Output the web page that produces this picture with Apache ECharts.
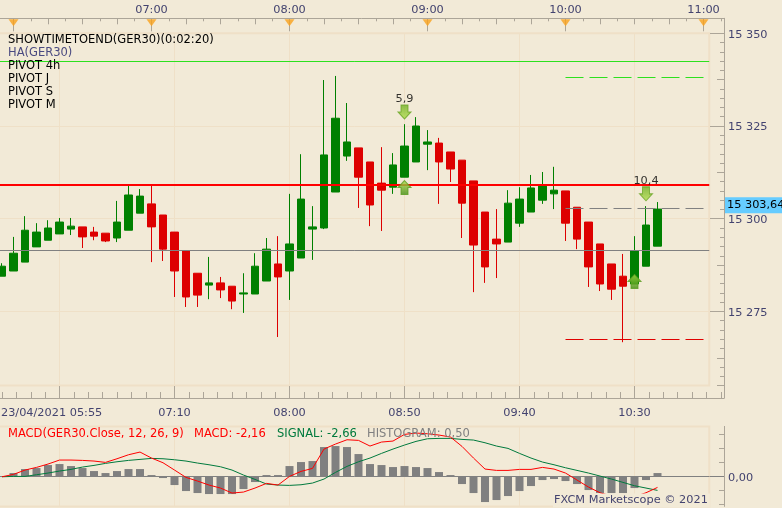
<!DOCTYPE html>
<html><head><meta charset="utf-8">
<style>html,body{margin:0;padding:0;background:#f2ead7;overflow:hidden}#c{width:782px;height:508px}</style>
<script src="https://cdn.jsdelivr.net/npm/echarts@6/dist/echarts.min.js"></script>
</head><body><div id="c"></div>
<script>
// [open, close, low, high]
const candleOpen=[15284.5,15285.9,15288.3,15292.4,15294.2,15295.9,15297.2,15297.8,15296.4,15296.1,15294.8,15296.9,15301.5,15304.0,15301.0,15296.4,15291.3,15285.3,15282.1,15282.7,15281.8,15279.7,15279.7,15283.2,15287.8,15285.9,15289.4,15297.2,15297.5,15307.2,15316.9,15319.1,15315.3,15309.6,15308.5,15311.2,15315.3,15320.1,15320.4,15318.0,15315.8,15310.2,15301.8,15294.5,15293.7,15298.8,15301.8,15305.0,15306.7,15307.5,15303.1,15299.1,15293.2,15287.8,15284.5,15282.4,15287.2,15292.6];
const candleClose=[15287.2,15290.7,15296.9,15296.4,15297.5,15299.1,15298.0,15295.1,15295.3,15294.0,15299.1,15306.4,15306.1,15297.8,15291.8,15285.9,15278.9,15279.4,15282.7,15280.8,15277.8,15280.0,15287.2,15291.8,15284.3,15293.2,15305.3,15297.8,15317.2,15327.1,15320.7,15311.2,15303.7,15307.7,15314.5,15319.6,15325.0,15320.7,15315.3,15313.4,15304.2,15292.9,15287.0,15293.2,15304.2,15305.3,15308.3,15308.8,15307.7,15298.8,15294.5,15287.0,15282.4,15281.0,15281.8,15291.3,15298.3,15302.6];
const candleLow=[15284.5,15285.9,15288.3,15292.4,15294.2,15295.9,15295.6,15292.1,15294.2,15293.7,15293.7,15296.9,15301.5,15288.3,15288.6,15278.9,15276.2,15276.2,15278.3,15278.6,15275.6,15274.6,15279.7,15283.2,15268.1,15278.1,15289.4,15288.9,15297.2,15307.2,15315.6,15302.9,15298.0,15296.7,15306.7,15311.2,15315.3,15313.1,15304.0,15309.9,15294.8,15280.2,15282.7,15284.0,15293.7,15297.8,15301.8,15304.0,15302.6,15294.0,15291.8,15281.6,15280.5,15278.1,15266.7,15282.4,15287.2,15292.6];
const candleHigh=[15288.0,15295.1,15300.7,15298.8,15299.6,15300.2,15300.2,15297.8,15297.8,15296.1,15304.8,15309.1,15308.0,15309.1,15301.0,15296.4,15291.3,15285.3,15289.7,15284.3,15281.8,15285.3,15290.7,15294.8,15295.3,15306.7,15317.4,15303.4,15337.4,15338.5,15331.2,15319.1,15315.3,15319.3,15317.7,15325.5,15327.4,15323.9,15321.8,15318.0,15315.8,15310.2,15301.8,15302.6,15307.7,15308.5,15311.8,15312.6,15314.0,15307.5,15303.1,15299.1,15293.2,15287.8,15290.5,15295.3,15303.4,15304.5];
const slotCount=62;
const redLevel=15309.1, grayLevel=15291.43, greenLevel=15342.4;
const dashFrom=49, dashTo=61;
const dashGreen=15338.08, dashGray=15302.76, dashRed=15267.43;
const arrowsDown=[[35,15328.8,'5,9'],[56,15306.7,'10,4']];
const arrowsUp=[[35,15308.4],[55,15283.1]];
const lastPrice=15303.64;
const priceTicks=[15350,15325,15300,15275];
const hourMarks=[360,420,480,540,600,660];
const bottomLabels={100:'07:10',150:'08:00',200:'08:50',250:'09:40',300:'10:30'};
const macdHist=[0,0.67,1.47,1.67,2.27,2.47,2.07,1.67,1.07,0.67,1.07,1.47,1.47,0.27,-0.33,-1.73,-2.93,-3.33,-3.53,-3.53,-3.53,-2.53,-1.13,0.27,0.27,2.07,2.87,3.07,5.87,6.07,5.87,4.47,2.47,2.27,1.87,2.07,1.87,1.67,0.87,0.27,-1.53,-3.33,-5.13,-4.73,-3.93,-2.93,-1.93,-0.73,-0.53,-0.93,-1.53,-2.73,-3.33,-3.33,-3.33,-2.33,-0.73,0.67];
const macdLine=[-0.07,0.4,1.27,1.8,2.47,3.27,3.27,3.2,3.07,2.8,3.53,4.33,4.87,3.67,2.73,1.27,-0.2,-0.93,-1.73,-2.33,-3.33,-3.13,-2.33,-1.4,-1.73,0,1,1.6,5.47,6.47,7.33,7.2,6.07,6.87,7.07,8.4,8.67,8.53,8.27,7.87,6,3.67,1.47,1.2,1.2,1.4,1.4,1.8,1.47,0.67,-0.73,-2.13,-3.27,-3.93,-4.2,-4.07,-3.27,-2.2];
const signalLine=[-0.07,0,0,0.33,0.67,1.07,1.4,1.87,2.2,2.6,2.93,3.2,3.4,3.6,3.53,3.33,3.07,2.67,2.33,1.93,1.27,0.27,-0.6,-1.53,-1.73,-1.8,-1.67,-1.33,-0.53,0.8,2,2.93,3.67,4.6,5.47,6.27,7,7.53,7.6,7.6,7.4,7.27,6.73,6.07,5.6,4.6,3.67,2.87,2.33,1.73,1.2,0.67,0.07,-0.53,-1.2,-1.87,-2.33,-2.8];
const legendItems=['SHOWTIMETOEND(GER30)(0:02:20)','HA(GER30)','PIVOT 4h','PIVOT J','PIVOT S','PIVOT M'];
const macdLegend=[['MACD(GER30.Close, 12, 26, 9)',8,'#ff0000'],['MACD: -2,16',194,'#ff0000'],['SIGNAL: -2,66',277,'#007a3d'],['HISTOGRAM: 0,50',367,'#808080']];

const FONT='"DejaVu Sans"', FS=11.3, LFS=11.5;
const BG='#f2ead7', GRID='#efe0c7', AX='#aca598', TXT='#43436f';
const GREEN='#008000', RED='#dd0000';
const cats=Array.from({length:slotCount},(_,i)=>String(i));
const clock=m=>String(Math.floor(m/60)).padStart(2,'0')+':'+String(m%60).padStart(2,'0');
const LEFT=-3.75,WIDE=713,TOP=33.3,H=352.3,MTOP=426.4,MH=80;
const off={show:false};
const noLine={show:false,onZero:false};
const rule={show:true,onZero:false,lineStyle:{color:AX,width:1}};
const arrowUpPath='path://M6.5 0L13 7H10V14H3V7H0Z';
const arrowDownPath='path://M3 0H10V7H13L6.5 14L0 7H3Z';
const grad=(a,b)=>new echarts.graphic.LinearGradient(0,0,0,1,[{offset:0,color:a},{offset:1,color:b}]);
const lowered=(pad)=>({t:{color:TXT,fontFamily:FONT,fontSize:FS,padding:[pad,0,0,0]}});

const grids=[
 {left:LEFT,top:TOP,width:WIDE,height:H,show:true,borderColor:GRID,borderWidth:2,backgroundColor:'transparent',z:0}, //0 candles
 {left:-55.5,top:TOP,width:764.75,height:H}, //1 guides
 {left:-124.5,top:18.3,width:848.5,height:13}, //2 top quarter ruler
 {left:-124.5,top:18.3,width:848.5,height:13}, //3 top hours
 {left:-55.5,top:386,width:779.5,height:12}, //4 bottom ruler
 {left:LEFT,top:MTOP,width:WIDE,height:MH,show:true,borderColor:GRID,borderWidth:2,backgroundColor:'transparent',z:0}, //5 macd
 {left:-55.5,top:MTOP,width:764.75,height:MH}, //6 macd guides
 {left:0,top:18.3,width:724,height:379.7}, //7 frame
 {left:LEFT,top:TOP,width:WIDE,height:H} //8 last price tag
].map(g=>Object.assign(g,{outerBoundsMode:'none',containLabel:false}));
const xAxes=[
 {gridIndex:0,type:'category',data:cats,boundaryGap:true,position:'bottom',offset:12.4,axisLine:noLine,axisTick:off,splitLine:off,
  axisLabel:{interval:(i)=>i===0,formatter:()=>'23/04/2021 05:55',align:'left',color:TXT,fontFamily:FONT,fontSize:FS,margin:10,padding:[0,0,0,-1]}},
 {gridIndex:1,type:'value',min:0,max:332.5,interval:50,axisLine:noLine,axisTick:off,axisLabel:off,splitLine:{show:true,lineStyle:{color:GRID,width:1}}},
 {gridIndex:2,type:'value',position:'top',min:300,max:668.9,interval:15,axisLine:rule,
  axisTick:{show:true,inside:true,length:6,lineStyle:{color:AX}},minorTick:{show:true,splitNumber:2,length:3,lineStyle:{color:AX}},axisLabel:off,splitLine:off},
 {gridIndex:3,type:'value',position:'top',min:300,max:668.9,interval:60,axisLine:noLine,axisTick:{show:true,inside:true,length:13,lineStyle:{color:AX}},
  axisLabel:{color:TXT,fontFamily:FONT,fontSize:FS,margin:3,formatter:v=>(v>=420&&v<=660)?clock(v):''},splitLine:off},
 {gridIndex:4,type:'value',position:'bottom',min:0,max:338.9,interval:50,axisLine:rule,
  axisTick:{show:true,inside:true,length:12,lineStyle:{color:AX}},minorTick:{show:true,splitNumber:8,length:6,lineStyle:{color:AX}},
  axisLabel:{color:TXT,fontFamily:FONT,fontSize:FS,margin:10,formatter:v=>bottomLabels[v]||''},splitLine:off},
 {gridIndex:5,type:'category',data:cats,boundaryGap:true,axisLine:{show:true,onZero:true,lineStyle:{color:'#808080',width:1}},axisTick:off,axisLabel:off,splitLine:off},
 {gridIndex:6,type:'value',min:0,max:332.5,interval:50,axisLine:noLine,axisTick:off,axisLabel:off,splitLine:{show:true,lineStyle:{color:GRID,width:1}}},
 {gridIndex:7,type:'value',min:0,max:1,show:false},
 {gridIndex:8,type:'category',data:cats,show:false}
];
const yAxes=[
 {gridIndex:0,type:'value',position:'right',offset:14.75,min:15255,max:15350,axisLine:noLine,splitLine:off,
  axisTick:{show:true,inside:true,length:14,customValues:priceTicks,lineStyle:{color:AX}},
  axisLabel:{customValues:priceTicks,margin:4,rich:lowered(3),formatter:v=>'{t|'+String(v).slice(0,2)+' '+String(v).slice(2)+'}'}},
 {gridIndex:1,type:'value',inverse:true,position:'right',offset:14.75,min:0,max:95,interval:12.5,axisLine:noLine,axisLabel:off,
  axisTick:{show:true,inside:true,length:7,lineStyle:{color:AX}},minorTick:{show:true,splitNumber:5,length:4,lineStyle:{color:AX}},splitLine:off},
 {gridIndex:1,type:'value',inverse:true,position:'left',min:0,max:95,interval:25,axisLine:noLine,axisLabel:off,axisTick:off,splitLine:{show:true,lineStyle:{color:GRID,width:1}}},
 {gridIndex:2,type:'value',min:0,max:1,show:false},
 {gridIndex:3,type:'value',min:0,max:1,show:false},
 {gridIndex:4,type:'value',min:0,max:1,show:false},
 {gridIndex:5,type:'value',position:'right',offset:14.75,min:-6,max:10,axisLine:rule,splitLine:off,
  axisTick:{show:true,inside:true,length:14,customValues:[0],lineStyle:{color:'#808080'}},
  axisLabel:{customValues:[0],margin:4,rich:lowered(4),formatter:()=>'{t|0,00}'}},
 {gridIndex:6,type:'value',position:'right',offset:14.75,min:-6,max:10,axisLine:noLine,axisLabel:off,splitLine:off,
  axisTick:{show:true,inside:true,length:5,customValues:[-5.6,-2.8,2.8,5.6,8.4],lineStyle:{color:AX}}},
 {gridIndex:7,type:'value',position:'right',min:0,max:1,axisLine:rule,axisTick:off,axisLabel:off,splitLine:off},
 {gridIndex:8,type:'value',position:'right',offset:14.75,min:15255,max:15350,axisLine:noLine,axisTick:off,splitLine:off,
  axisLabel:{customValues:[lastPrice],color:'#000',backgroundColor:'#66ccff',fontFamily:FONT,fontSize:FS,margin:1,padding:[2,20,2,2],lineHeight:12,formatter:()=>'15 303,64'}}
];

const hline=(v,color,w)=>({yAxis:v,lineStyle:{color,width:w,type:'solid'}});
const dashSeries=(v,color)=>({type:'line',xAxisIndex:0,yAxisIndex:0,data:[[dashFrom,v],[dashTo,v]],showSymbol:false,symbol:'none',silent:true,z:5,lineStyle:{color,width:1,type:[18,6]},animation:false});

const option={
 animation:false,backgroundColor:BG,grid:grids,xAxis:xAxes,yAxis:yAxes,
 title:{text:'FXCM Marketscope © 2021',left:553,top:493.5,padding:[0,2,1,1],backgroundColor:BG,textStyle:{color:TXT,fontFamily:FONT,fontSize:FS,fontWeight:'normal',lineHeight:13},z:20},
 graphic:{elements:[
  ...legendItems.map((t,i)=>({type:'text',x:8,y:40+13*i,z:50,style:{text:t,fill:i===1?'#4a4a80':'#000',font:LFS+'px '+FONT,textVerticalAlign:'middle'}})),
  ...macdLegend.map(l=>({type:'text',x:l[1],y:434.5,z:50,style:{text:l[0],fill:l[2],font:LFS+'px '+FONT,textVerticalAlign:'middle'}}))
 ]},
 series:[
  {type:'candlestick',xAxisIndex:0,yAxisIndex:0,barWidth:8,z:3,clip:true,
   data:candleOpen.map((o,i)=>[o,candleClose[i],candleLow[i],candleHigh[i]]),
   itemStyle:{color:GREEN,color0:RED,borderColor:GREEN,borderColor0:RED,borderWidth:1},
   markLine:{silent:true,symbol:'none',label:{show:false},z:6,data:[hline(grayLevel,'#808080',1),hline(redLevel,'#ff0000',2),hline(greenLevel,'#2de01e',1)]}},
  dashSeries(dashGreen,'#2de01e'),dashSeries(dashGray,'#808080'),dashSeries(dashRed,'#e00000'),
  {type:'scatter',xAxisIndex:0,yAxisIndex:0,symbol:arrowDownPath,symbolSize:[13,14],z:8,data:arrowsDown.map(a=>({value:[a[0],a[1]],label:{show:true,formatter:a[2]}})),
   label:{position:'top',distance:0,color:'#000',fontFamily:FONT,fontSize:FS},itemStyle:{color:grad('#6fae24','#b2e04c'),borderColor:'#6aa526',borderWidth:1}},
  {type:'scatter',xAxisIndex:0,yAxisIndex:0,symbol:arrowUpPath,symbolSize:[13,14],z:8,data:arrowsUp.map(a=>[a[0],a[1]]),
   itemStyle:{color:grad('#b2e04c','#3f8a12'),borderColor:'#5a9c20',borderWidth:1}},
  {type:'scatter',xAxisIndex:3,yAxisIndex:4,symbol:'triangle',symbolRotate:180,symbolSize:[10,7],data:hourMarks.map(h=>[h,0.65]),itemStyle:{color:'#f9a11b'},z:8,clip:false},
  {type:'bar',xAxisIndex:5,yAxisIndex:6,data:macdHist,barWidth:8,itemStyle:{color:'#808080'},z:3},
  {type:'line',xAxisIndex:5,yAxisIndex:6,data:signalLine,showSymbol:false,symbol:'none',lineStyle:{color:'#007a3d',width:1},z:5},
  {type:'line',xAxisIndex:5,yAxisIndex:6,data:macdLine,showSymbol:false,symbol:'none',lineStyle:{color:'#ff0000',width:1},z:5}
 ]
};
const chart=echarts.init(document.getElementById('c'),null,{renderer:'canvas'});
chart.setOption(option);
</script></body></html>
